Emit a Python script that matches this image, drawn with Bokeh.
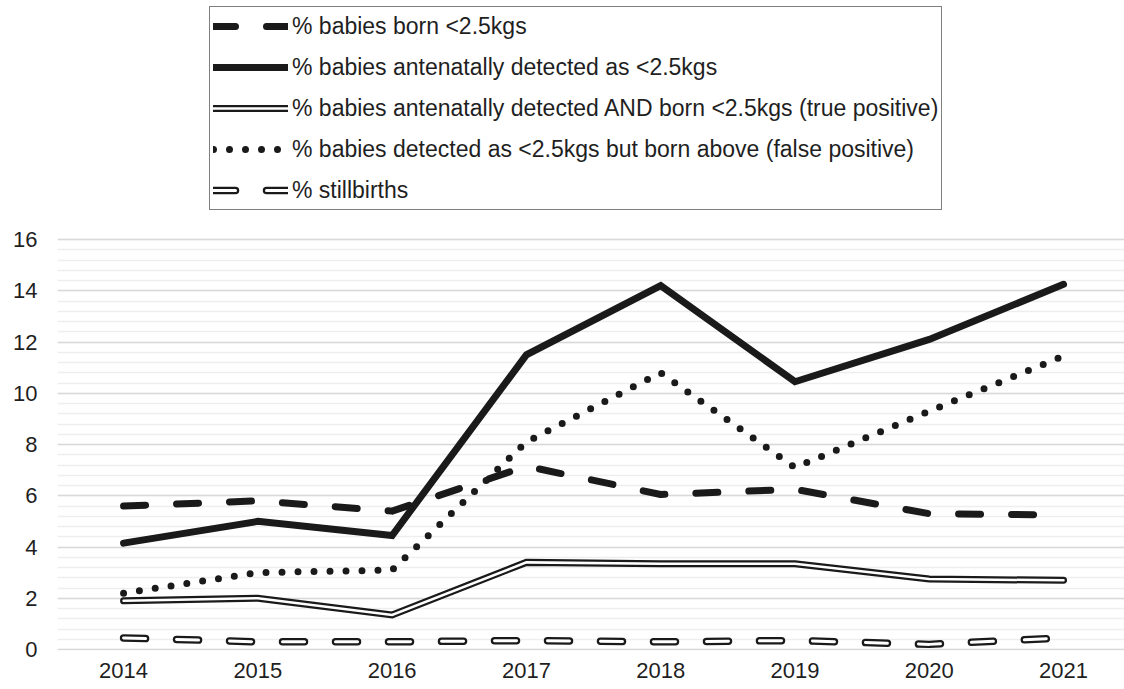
from bokeh.plotting import figure
from bokeh.models import Legend, LegendItem, SingleIntervalTicker, FixedTicker, Range1d
from bokeh.embed import file_html
from bokeh.resources import INLINE

years = [2014, 2015, 2016, 2017, 2018, 2019, 2020, 2021]
year_labels = ["2014", "2015", "2016", "2017", "2018", "2019", "2020", "2021"]
born_under_25 = [5.6, 5.8, 5.4, 7.15, 6.05, 6.25, 5.3, 5.25]
detected_under_25 = [4.15, 5.0, 4.45, 11.5, 14.2, 10.45, 12.1, 14.25]
true_positive = [1.9, 2.0, 1.35, 3.4, 3.35, 3.35, 2.75, 2.7]
false_positive = [2.2, 3.0, 3.1, 8.1, 10.8, 7.1, 9.3, 11.45]
stillbirths = [0.45, 0.3, 0.3, 0.35, 0.3, 0.35, 0.2, 0.45]

labels = [
    "% babies born <2.5kgs",
    "% babies antenatally detected as <2.5kgs",
    "% babies antenatally detected AND born <2.5kgs (true positive)",
    "% babies detected as <2.5kgs but born above (false positive)",
    "% stillbirths",
]

FONT = "Liberation Sans"
INK = "#1a1a1a"

# frame spans the whole height so the legend (drawn inside it) is not clipped;
# the grid and the y axis are bounded to 0..16
p = figure(
    x_range=Range1d(2013.508, 2021.454), y_range=Range1d(-0.039, 25.327),
    width=1124, height=689, output_backend="svg", toolbar_location=None,
    min_border_left=57, min_border_right=0, min_border_top=0, min_border_bottom=39,
)
p.outline_line_color = None
p.background_fill_color = "white"

yticker = SingleIntervalTicker(interval=2, num_minor_ticks=5)
p.yaxis.ticker = yticker
p.yaxis.bounds = (0, 16)
p.ygrid.ticker = yticker
p.ygrid.bounds = (0, 16)
p.ygrid.grid_line_color = "#d9d9d9"
p.ygrid.grid_line_width = 1.5
p.ygrid.minor_grid_line_color = "#eeeeee"
p.ygrid.minor_grid_line_width = 1.5
p.xgrid.grid_line_color = None

p.xaxis.ticker = FixedTicker(ticks=years, minor_ticks=[])
p.xaxis.major_label_overrides = {y: s for y, s in zip(years, year_labels)}

for ax in (p.xaxis, p.yaxis):
    ax.axis_line_color = None
    ax.major_tick_line_color = None
    ax.minor_tick_line_color = None
    ax.major_tick_out = 0
    ax.major_tick_in = 0
    ax.minor_tick_out = 0
    ax.minor_tick_in = 0
    ax.major_label_text_font = FONT
    ax.major_label_text_font_size = "22px"
    ax.major_label_text_color = "#1f1f1f"
p.yaxis.major_label_standoff = 20
p.xaxis.major_label_standoff = 12

# stillbirths: double dashed line
r_sb_o = p.line(years, stillbirths, line_color=INK, line_width=7.5, line_dash="22 31", line_cap="round", line_join="round")
r_sb_i = p.line(years, stillbirths, line_color="white", line_width=3, line_dash="22 31", line_cap="round", line_join="round")

# true positive: double solid line
r_tp_o = p.line(years, true_positive, line_color=INK, line_width=7, line_cap="round", line_join="miter")
r_tp_i = p.line(years, true_positive, line_color="white", line_width=2.5, line_cap="round", line_join="miter")

# born < 2.5kg: thick dashed
r_born = p.line(years, born_under_25, line_color=INK, line_width=7, line_dash="22 31", line_cap="round", line_join="round")

# false positive: dotted
r_fp = p.line(years, false_positive, line_color=INK, line_width=7, line_dash="0 16", line_cap="round", line_join="round")

# detected: thick solid
r_det = p.line(years, detected_under_25, line_color=INK, line_width=7, line_cap="round", line_join="miter")

legend = Legend(
    items=[
        LegendItem(label=labels[0], renderers=[r_born]),
        LegendItem(label=labels[1], renderers=[r_det]),
        LegendItem(label=labels[2], renderers=[r_tp_o, r_tp_i]),
        LegendItem(label=labels[3], renderers=[r_fp]),
        LegendItem(label=labels[4], renderers=[r_sb_o, r_sb_i]),
    ],
    location=(152, 440),
    orientation="vertical",
    padding=3, spacing=9, margin=0,
    glyph_width=75, glyph_height=32, label_height=32, label_standoff=4,
    label_text_font=FONT, label_text_font_size="23px", label_text_color="#1f1f1f",
    border_line_color="#000000", border_line_width=1.3,
    background_fill_color="white", background_fill_alpha=1.0,
)
p.add_layout(legend, "center")

open("out.html", "w").write(file_html(p, INLINE))
